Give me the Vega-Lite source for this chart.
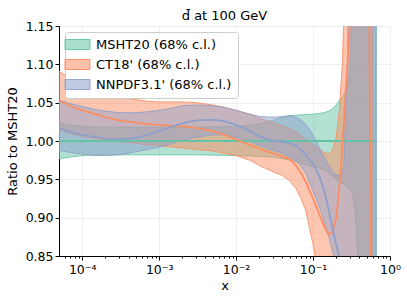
{
  "$schema": "https://vega.github.io/schema/vega-lite/v6.json",
  "width": 331,
  "height": 230,
  "autosize": "none",
  "padding": {"left": 59, "top": 26, "right": 17, "bottom": 44},
  "background": "white",
  "title": {"text": "d̄ at 100 GeV", "fontSize": 13, "font": "DejaVu Sans", "fontWeight": "normal", "color": "black", "offset": 6, "dy": 9},
  "config": {
    "view": {"stroke": null},
    "axis": {
      "domainColor": "black", "domainWidth": 1, "tickColor": "black", "tickWidth": 1,
      "labelColor": "black", "titleColor": "black", "labelFont": "DejaVu Sans", "titleFont": "DejaVu Sans",
      "labelFontSize": 12.5, "titleFontSize": 13, "titleFontWeight": "normal",
      "gridColor": "#ebebeb", "gridWidth": 0.8, "labelOverlap": false
    },
    "axisY": {"labelOverlap": false, "tickCount": 7},
    "legend": {
      "orient": "none", "legendX": 6, "legendY": 6, "padding": 6,
      "fillColor": "white", "strokeColor": "#cccccc", "cornerRadius": 3,
      "labelFont": "DejaVu Sans", "labelFontSize": 13, "labelColor": "black",
      "symbolType": "M-2.5,-1H2.5V1H-2.5Z", "symbolSize": 100,
      "rowPadding": 5, "labelOffset": 12, "titlePadding": 0, "labelLimit": 300
    }
  },
  "data": {"values": [
    {"pdf": "MSHT20 (68% c.l.)", "x": 5e-5, "lo": 0.977, "mid": 1, "hi": 1.023},
    {"pdf": "MSHT20 (68% c.l.)", "x": 7e-5, "lo": 0.979, "mid": 1, "hi": 1.021},
    {"pdf": "MSHT20 (68% c.l.)", "x": 1e-4, "lo": 0.981, "mid": 1, "hi": 1.019},
    {"pdf": "MSHT20 (68% c.l.)", "x": 1.5e-4, "lo": 0.982, "mid": 1, "hi": 1.018},
    {"pdf": "MSHT20 (68% c.l.)", "x": 3e-4, "lo": 0.982, "mid": 1, "hi": 1.018},
    {"pdf": "MSHT20 (68% c.l.)", "x": 1e-3, "lo": 0.982, "mid": 1, "hi": 1.018},
    {"pdf": "MSHT20 (68% c.l.)", "x": 3e-3, "lo": 0.982, "mid": 1, "hi": 1.018},
    {"pdf": "MSHT20 (68% c.l.)", "x": 1e-2, "lo": 0.981, "mid": 1, "hi": 1.019},
    {"pdf": "MSHT20 (68% c.l.)", "x": 2e-2, "lo": 0.98, "mid": 1, "hi": 1.022},
    {"pdf": "MSHT20 (68% c.l.)", "x": 3e-2, "lo": 0.979, "mid": 1, "hi": 1.027},
    {"pdf": "MSHT20 (68% c.l.)", "x": 4e-2, "lo": 0.977, "mid": 1, "hi": 1.031},
    {"pdf": "MSHT20 (68% c.l.)", "x": 5e-2, "lo": 0.975, "mid": 1, "hi": 1.033},
    {"pdf": "MSHT20 (68% c.l.)", "x": 7e-2, "lo": 0.971, "mid": 1, "hi": 1.034},
    {"pdf": "MSHT20 (68% c.l.)", "x": 0.1, "lo": 0.967, "mid": 1, "hi": 1.035},
    {"pdf": "MSHT20 (68% c.l.)", "x": 0.12, "lo": 0.965, "mid": 1, "hi": 1.036},
    {"pdf": "MSHT20 (68% c.l.)", "x": 0.14, "lo": 0.962, "mid": 1, "hi": 1.037},
    {"pdf": "MSHT20 (68% c.l.)", "x": 0.16, "lo": 0.958, "mid": 1, "hi": 1.039},
    {"pdf": "MSHT20 (68% c.l.)", "x": 0.18, "lo": 0.954, "mid": 1, "hi": 1.042},
    {"pdf": "MSHT20 (68% c.l.)", "x": 0.2, "lo": 0.95, "mid": 1, "hi": 1.047},
    {"pdf": "MSHT20 (68% c.l.)", "x": 0.22, "lo": 0.947, "mid": 1, "hi": 1.053},
    {"pdf": "MSHT20 (68% c.l.)", "x": 0.25, "lo": 0.944, "mid": 1, "hi": 1.06},
    {"pdf": "MSHT20 (68% c.l.)", "x": 0.28, "lo": 0.94, "mid": 1, "hi": 1.068},
    {"pdf": "MSHT20 (68% c.l.)", "x": 0.3, "lo": 0.937, "mid": 1, "hi": 1.09},
    {"pdf": "MSHT20 (68% c.l.)", "x": 0.33, "lo": 0.93, "mid": 1, "hi": 1.2},
    {"pdf": "MSHT20 (68% c.l.)", "x": 0.36, "lo": 0.9, "mid": 1, "hi": 1.35},
    {"pdf": "MSHT20 (68% c.l.)", "x": 0.4, "lo": 0.8, "mid": 1, "hi": 1.5},
    {"pdf": "MSHT20 (68% c.l.)", "x": 0.45, "lo": 0.65, "mid": 1, "hi": 1.6},
    {"pdf": "MSHT20 (68% c.l.)", "x": 0.55, "lo": 0.5, "mid": 1, "hi": 1.8},
    {"pdf": "MSHT20 (68% c.l.)", "x": 0.66, "lo": 0.4, "mid": 1, "hi": 2.0},

    {"pdf": "CT18' (68% c.l.)", "x": 5e-5, "lo": 1.015, "mid": 1.053, "hi": 1.091},
    {"pdf": "CT18' (68% c.l.)", "x": 7e-5, "lo": 1.01, "mid": 1.046, "hi": 1.082},
    {"pdf": "CT18' (68% c.l.)", "x": 1e-4, "lo": 1.006, "mid": 1.04, "hi": 1.073},
    {"pdf": "CT18' (68% c.l.)", "x": 1.5e-4, "lo": 1.003, "mid": 1.035, "hi": 1.066},
    {"pdf": "CT18' (68% c.l.)", "x": 2e-4, "lo": 1.001, "mid": 1.031, "hi": 1.061},
    {"pdf": "CT18' (68% c.l.)", "x": 3e-4, "lo": 0.999, "mid": 1.027, "hi": 1.057},
    {"pdf": "CT18' (68% c.l.)", "x": 5e-4, "lo": 0.997, "mid": 1.024, "hi": 1.054},
    {"pdf": "CT18' (68% c.l.)", "x": 7e-4, "lo": 0.995, "mid": 1.022, "hi": 1.052},
    {"pdf": "CT18' (68% c.l.)", "x": 1e-3, "lo": 0.994, "mid": 1.021, "hi": 1.051},
    {"pdf": "CT18' (68% c.l.)", "x": 2e-3, "lo": 0.991, "mid": 1.019, "hi": 1.051},
    {"pdf": "CT18' (68% c.l.)", "x": 3e-3, "lo": 0.989, "mid": 1.017, "hi": 1.05},
    {"pdf": "CT18' (68% c.l.)", "x": 5e-3, "lo": 0.987, "mid": 1.013, "hi": 1.047},
    {"pdf": "CT18' (68% c.l.)", "x": 7e-3, "lo": 0.984, "mid": 1.008, "hi": 1.044},
    {"pdf": "CT18' (68% c.l.)", "x": 1e-2, "lo": 0.981, "mid": 1.002, "hi": 1.04},
    {"pdf": "CT18' (68% c.l.)", "x": 1.5e-2, "lo": 0.975, "mid": 0.995, "hi": 1.035},
    {"pdf": "CT18' (68% c.l.)", "x": 2e-2, "lo": 0.968, "mid": 0.99, "hi": 1.03},
    {"pdf": "CT18' (68% c.l.)", "x": 3e-2, "lo": 0.96, "mid": 0.984, "hi": 1.024},
    {"pdf": "CT18' (68% c.l.)", "x": 4e-2, "lo": 0.955, "mid": 0.98, "hi": 1.02},
    {"pdf": "CT18' (68% c.l.)", "x": 5e-2, "lo": 0.948, "mid": 0.976, "hi": 1.016},
    {"pdf": "CT18' (68% c.l.)", "x": 6e-2, "lo": 0.938, "mid": 0.968, "hi": 1.012},
    {"pdf": "CT18' (68% c.l.)", "x": 7e-2, "lo": 0.925, "mid": 0.958, "hi": 1.007},
    {"pdf": "CT18' (68% c.l.)", "x": 8e-2, "lo": 0.91, "mid": 0.947, "hi": 1.002},
    {"pdf": "CT18' (68% c.l.)", "x": 0.1, "lo": 0.865, "mid": 0.925, "hi": 0.995},
    {"pdf": "CT18' (68% c.l.)", "x": 0.12, "lo": 0.82, "mid": 0.905, "hi": 0.99},
    {"pdf": "CT18' (68% c.l.)", "x": 0.14, "lo": 0.78, "mid": 0.888, "hi": 0.985},
    {"pdf": "CT18' (68% c.l.)", "x": 0.16, "lo": 0.75, "mid": 0.878, "hi": 0.983},
    {"pdf": "CT18' (68% c.l.)", "x": 0.18, "lo": 0.73, "mid": 0.882, "hi": 0.988},
    {"pdf": "CT18' (68% c.l.)", "x": 0.2, "lo": 0.71, "mid": 0.9, "hi": 1.005},
    {"pdf": "CT18' (68% c.l.)", "x": 0.22, "lo": 0.69, "mid": 0.94, "hi": 1.04},
    {"pdf": "CT18' (68% c.l.)", "x": 0.24, "lo": 0.67, "mid": 0.99, "hi": 1.1},
    {"pdf": "CT18' (68% c.l.)", "x": 0.26, "lo": 0.65, "mid": 1.05, "hi": 1.2},
    {"pdf": "CT18' (68% c.l.)", "x": 0.28, "lo": 0.63, "mid": 1.1, "hi": 1.35},
    {"pdf": "CT18' (68% c.l.)", "x": 0.3, "lo": 0.6, "mid": 1.15, "hi": 1.5},
    {"pdf": "CT18' (68% c.l.)", "x": 0.33, "lo": 0.55, "mid": 1.3, "hi": 1.7},
    {"pdf": "CT18' (68% c.l.)", "x": 0.4, "lo": 0.5, "mid": 1.6, "hi": 2.0},
    {"pdf": "CT18' (68% c.l.)", "x": 0.5, "lo": 0.4, "mid": 1.4, "hi": 2.0},
    {"pdf": "CT18' (68% c.l.)", "x": 0.54, "lo": 0.35, "mid": 1.15, "hi": 2.0},
    {"pdf": "CT18' (68% c.l.)", "x": 0.56, "lo": 0.3, "mid": 0.85, "hi": 2.0},
    {"pdf": "CT18' (68% c.l.)", "x": 0.6, "lo": 0.2, "mid": 0.5, "hi": 2.0},

    {"pdf": "NNPDF3.1' (68% c.l.)", "x": 5e-5, "lo": 0.988, "mid": 1.0165, "hi": 1.0535},
    {"pdf": "NNPDF3.1' (68% c.l.)", "x": 7e-5, "lo": 0.985, "mid": 1.012, "hi": 1.049},
    {"pdf": "NNPDF3.1' (68% c.l.)", "x": 1e-4, "lo": 0.983, "mid": 1.008, "hi": 1.045},
    {"pdf": "NNPDF3.1' (68% c.l.)", "x": 1.5e-4, "lo": 0.981, "mid": 1.005, "hi": 1.041},
    {"pdf": "NNPDF3.1' (68% c.l.)", "x": 2e-4, "lo": 0.981, "mid": 1.003, "hi": 1.039},
    {"pdf": "NNPDF3.1' (68% c.l.)", "x": 3e-4, "lo": 0.982, "mid": 1.002, "hi": 1.037},
    {"pdf": "NNPDF3.1' (68% c.l.)", "x": 5e-4, "lo": 0.986, "mid": 1.004, "hi": 1.037},
    {"pdf": "NNPDF3.1' (68% c.l.)", "x": 7e-4, "lo": 0.989, "mid": 1.008, "hi": 1.038},
    {"pdf": "NNPDF3.1' (68% c.l.)", "x": 1e-3, "lo": 0.992, "mid": 1.013, "hi": 1.04},
    {"pdf": "NNPDF3.1' (68% c.l.)", "x": 1.5e-3, "lo": 0.997, "mid": 1.019, "hi": 1.043},
    {"pdf": "NNPDF3.1' (68% c.l.)", "x": 2e-3, "lo": 1.001, "mid": 1.023, "hi": 1.046},
    {"pdf": "NNPDF3.1' (68% c.l.)", "x": 3e-3, "lo": 1.005, "mid": 1.027, "hi": 1.047},
    {"pdf": "NNPDF3.1' (68% c.l.)", "x": 5e-3, "lo": 1.008, "mid": 1.028, "hi": 1.046},
    {"pdf": "NNPDF3.1' (68% c.l.)", "x": 7e-3, "lo": 1.008, "mid": 1.026, "hi": 1.044},
    {"pdf": "NNPDF3.1' (68% c.l.)", "x": 1e-2, "lo": 1.005, "mid": 1.021, "hi": 1.04},
    {"pdf": "NNPDF3.1' (68% c.l.)", "x": 1.5e-2, "lo": 0.999, "mid": 1.013, "hi": 1.035},
    {"pdf": "NNPDF3.1' (68% c.l.)", "x": 2e-2, "lo": 0.994, "mid": 1.006, "hi": 1.032},
    {"pdf": "NNPDF3.1' (68% c.l.)", "x": 3e-2, "lo": 0.988, "mid": 1.0, "hi": 1.031},
    {"pdf": "NNPDF3.1' (68% c.l.)", "x": 4e-2, "lo": 0.984, "mid": 0.999, "hi": 1.032},
    {"pdf": "NNPDF3.1' (68% c.l.)", "x": 5e-2, "lo": 0.979, "mid": 0.997, "hi": 1.033},
    {"pdf": "NNPDF3.1' (68% c.l.)", "x": 6e-2, "lo": 0.974, "mid": 0.994, "hi": 1.031},
    {"pdf": "NNPDF3.1' (68% c.l.)", "x": 7e-2, "lo": 0.967, "mid": 0.988, "hi": 1.027},
    {"pdf": "NNPDF3.1' (68% c.l.)", "x": 8e-2, "lo": 0.958, "mid": 0.982, "hi": 1.022},
    {"pdf": "NNPDF3.1' (68% c.l.)", "x": 0.1, "lo": 0.935, "mid": 0.97, "hi": 1.008},
    {"pdf": "NNPDF3.1' (68% c.l.)", "x": 0.12, "lo": 0.915, "mid": 0.955, "hi": 0.992},
    {"pdf": "NNPDF3.1' (68% c.l.)", "x": 0.14, "lo": 0.895, "mid": 0.935, "hi": 0.978},
    {"pdf": "NNPDF3.1' (68% c.l.)", "x": 0.16, "lo": 0.875, "mid": 0.91, "hi": 0.968},
    {"pdf": "NNPDF3.1' (68% c.l.)", "x": 0.18, "lo": 0.855, "mid": 0.885, "hi": 0.96},
    {"pdf": "NNPDF3.1' (68% c.l.)", "x": 0.2, "lo": 0.835, "mid": 0.865, "hi": 0.955},
    {"pdf": "NNPDF3.1' (68% c.l.)", "x": 0.22, "lo": 0.8, "mid": 0.848, "hi": 0.955},
    {"pdf": "NNPDF3.1' (68% c.l.)", "x": 0.25, "lo": 0.75, "mid": 0.82, "hi": 0.965},
    {"pdf": "NNPDF3.1' (68% c.l.)", "x": 0.28, "lo": 0.7, "mid": 0.78, "hi": 1.1},
    {"pdf": "NNPDF3.1' (68% c.l.)", "x": 0.3, "lo": 0.65, "mid": 0.72, "hi": 1.3},
    {"pdf": "NNPDF3.1' (68% c.l.)", "x": 0.33, "lo": 0.6, "mid": 0.7, "hi": 1.5},
    {"pdf": "NNPDF3.1' (68% c.l.)", "x": 0.4, "lo": 0.4, "mid": 0.65, "hi": 2.0},
    {"pdf": "NNPDF3.1' (68% c.l.)", "x": 0.5, "lo": 0.3, "mid": 0.6, "hi": 2.0},
    {"pdf": "NNPDF3.1' (68% c.l.)", "x": 0.66, "lo": 0.3, "mid": 0.6, "hi": 2.0}
  ]},
  "encoding": {
    "x": {"field": "x", "type": "quantitative",
      "scale": {"type": "log", "domain": [5e-5, 1], "nice": false},
      "axis": {
        "title": "x", "titlePadding": 4,
        "values": [6e-5, 7e-5, 8e-5, 9e-5, 1e-4, 2e-4, 3e-4, 4e-4, 5e-4, 6e-4, 7e-4, 8e-4, 9e-4, 1e-3, 2e-3, 3e-3, 4e-3, 5e-3, 6e-3, 7e-3, 8e-3, 9e-3, 1e-2, 2e-2, 3e-2, 4e-2, 5e-2, 6e-2, 7e-2, 8e-2, 9e-2, 0.1, 0.2, 0.3, 0.4, 0.5, 0.6, 0.7, 0.8, 0.9, 1],
        "labelExpr": "abs(log(datum.value)/LN10 - round(log(datum.value)/LN10)) > 1e-6 ? '' : datum.value < 0.0005 ? '10⁻⁴' : datum.value < 0.005 ? '10⁻³' : datum.value < 0.05 ? '10⁻²' : datum.value < 0.5 ? '10⁻¹' : '10⁰'",
        "labelOverlap": false, "labelFlush": false, "labelPadding": 3,
        "tickSize": {"condition": {"test": "abs(log(datum.value)/LN10 - round(log(datum.value)/LN10)) < 1e-6", "value": 4}, "value": 2},
        "gridOpacity": {"condition": {"test": "abs(log(datum.value)/LN10 - round(log(datum.value)/LN10)) < 1e-6", "value": 1}, "value": 0}
      }
    }
  },
  "layer": [
    {
      "mark": {"type": "area", "clip": true, "fillOpacity": 0.5, "strokeWidth": 1, "strokeOpacity": 0.85},
      "encoding": {
        "y": {"field": "lo", "type": "quantitative",
          "scale": {"domain": [0.85, 1.15], "nice": false, "zero": false},
          "axis": {"title": "Ratio to MSHT20", "values": [0.85, 0.9, 0.95, 1.0, 1.05, 1.1, 1.15], "format": ".2f", "tickSize": 4, "titlePadding": 6, "labelOverlap": false, "labelFlush": false}
        },
        "y2": {"field": "hi"},
        "fill": {"field": "pdf", "type": "nominal",
          "scale": {"domain": ["MSHT20 (68% c.l.)", "CT18' (68% c.l.)", "NNPDF3.1' (68% c.l.)"], "range": ["#66c2a5", "#fc8d62", "#8da0cb"]},
          "legend": {"title": null,
            "encode": {"symbols": {"update": {
              "stroke": {"scale": "fill", "field": "value"},
              "strokeWidth": {"value": 1},
              "fillOpacity": {"value": 0.55},
              "strokeOpacity": {"value": 0.9}
            }}}
          }
        },
        "stroke": {"field": "pdf", "type": "nominal",
          "scale": {"domain": ["MSHT20 (68% c.l.)", "CT18' (68% c.l.)", "NNPDF3.1' (68% c.l.)"], "range": ["#66c2a5", "#fc8d62", "#8da0cb"]},
          "legend": null
        }
      }
    },
    {
      "mark": {"type": "line", "clip": true, "strokeWidth": 1.8},
      "encoding": {
        "y": {"field": "mid", "type": "quantitative",
          "axis": {"title": "Ratio to MSHT20", "values": [0.85, 0.9, 0.95, 1.0, 1.05, 1.1, 1.15], "format": ".2f", "tickSize": 4, "titlePadding": 6, "labelOverlap": false, "labelFlush": false}
        },
        "stroke": {"field": "pdf", "type": "nominal", "legend": null}
      }
    }
  ]
}
